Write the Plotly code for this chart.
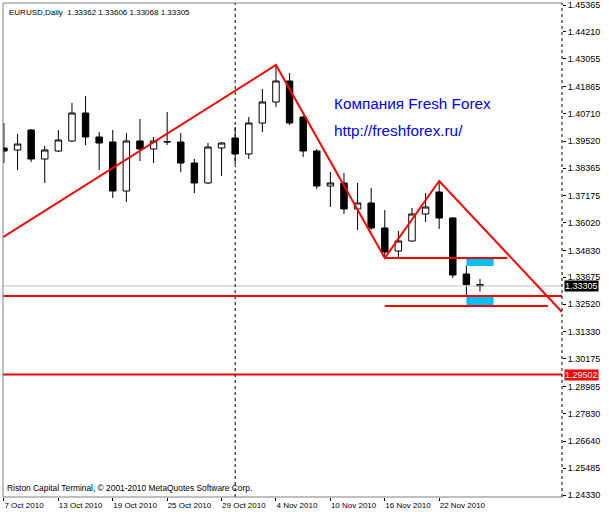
import plotly.graph_objects as go

# ---- data ----
bar_index = list(range(36))
opens  = [1.39226, 1.39140, 1.39999, 1.38754, 1.39097, 1.39527, 1.40729, 1.39698, 1.39484, 1.37380,
          1.39527, 1.39183, 1.39484, 1.39484, 1.38582, 1.37724, 1.39226, 1.39655, 1.38969, 1.40299,
          1.41201, 1.42102, 1.40557, 1.39097, 1.37595, 1.37724, 1.36608, 1.36865, 1.35792, 1.34805,
          1.35234, 1.36393, 1.37337, 1.36221, 1.33817, 1.33362]
highs  = [1.40299, 1.39827, 1.40042, 1.39312, 1.39999, 1.41158, 1.41459, 1.39913, 1.39999, 1.39870,
          1.40471, 1.39698, 1.40772, 1.39870, 1.38754, 1.39441, 1.39484, 1.40128, 1.40557, 1.41759,
          1.42800, 1.42446, 1.40600, 1.39183, 1.38196, 1.38153, 1.37724, 1.37509, 1.36565, 1.35663,
          1.36650, 1.37294, 1.37810, 1.36264, 1.34161, 1.33606]
lows   = [1.38582, 1.38282, 1.38625, 1.37724, 1.39054, 1.39480, 1.39355, 1.38282, 1.37080, 1.36908,
          1.38668, 1.38582, 1.39355, 1.38196, 1.37294, 1.37681, 1.38024, 1.38539, 1.38754, 1.39913,
          1.40986, 1.40214, 1.38840, 1.37466, 1.36693, 1.36393, 1.35706, 1.35706, 1.34504, 1.34547,
          1.35200, 1.36049, 1.35749, 1.33645, 1.32830, 1.33068]
closes = [1.39097, 1.39398, 1.38754, 1.39140, 1.39570, 1.40729, 1.39698, 1.39441, 1.37380, 1.39527,
          1.39183, 1.39527, 1.39494, 1.38582, 1.37724, 1.39269, 1.39441, 1.38969, 1.40299, 1.41201,
          1.42102, 1.40299, 1.39097, 1.37595, 1.37724, 1.36608, 1.36865, 1.35792, 1.34762, 1.35234,
          1.36393, 1.36693, 1.36221, 1.33774, 1.33360, 1.33305]

date_tick_bars = [0, 4, 8, 12, 16, 20, 24, 28, 32]
date_tick_labels = ["7 Oct 2010", "13 Oct 2010", "19 Oct 2010", "25 Oct 2010", "29 Oct 2010",
                    "4 Nov 2010", "10 Nov 2010", "16 Nov 2010", "22 Nov 2010"]

price_ticks = [1.45365, 1.44210, 1.43055, 1.41865, 1.40710, 1.39520, 1.38365, 1.37175, 1.36020,
               1.34830, 1.33675, 1.32520, 1.31330, 1.30175, 1.28985, 1.27830, 1.26640, 1.25485, 1.24330]

# zigzag trend line (bar index, price)
zigzag_bars   = [-0.07, 20, 28, 32, 41.03]
zigzag_prices = [1.35400, 1.42789, 1.34504, 1.37810, 1.32186]

# full-width horizontal levels
level_prices = [1.32873, 1.29502]
# short horizontal segments
seg_start = [28, 28]
seg_end   = [37, 40]
seg_price = [1.34504, 1.32443]

bid_price = 1.33305
separator_bar = 17

# blue target zones
zone_x0 = [34, 34]
zone_x1 = [36, 36]
zone_lo = [1.34161, 1.32486]
zone_hi = [1.34461, 1.32830]

header_text = "EURUSD,Daily  1.33362 1.33606 1.33068 1.33305"
footer_text = "Riston Capital Terminal, © 2001-2010 MetaQuotes Software Corp."
company_text = "Компания Fresh Forex"
url_text = "http://freshforex.ru/"

X_RANGE = [-0.07, 41.03]
Y_RANGE = [1.24244, 1.45451]
FONT = "Liberation Sans, Arial, sans-serif"

fig = go.Figure()

# bid line (behind candles)
fig.add_trace(go.Scatter(x=X_RANGE, y=[bid_price, bid_price], mode="lines",
                         line=dict(color="#C0C0C0", width=1), hoverinfo="skip", showlegend=False))

fig.add_trace(go.Candlestick(
    x=bar_index, open=opens, high=highs, low=lows, close=closes,
    increasing=dict(line=dict(color="black", width=1), fillcolor="white"),
    decreasing=dict(line=dict(color="black", width=1), fillcolor="black"),
    whiskerwidth=0, showlegend=False, hoverinfo="skip"))

# zigzag
fig.add_trace(go.Scatter(x=zigzag_bars, y=zigzag_prices, mode="lines",
                         line=dict(color="#FF0000", width=2), hoverinfo="skip", showlegend=False))
# full-width levels
for p in level_prices:
    fig.add_trace(go.Scatter(x=X_RANGE, y=[p, p], mode="lines",
                             line=dict(color="#FF0000", width=2), hoverinfo="skip", showlegend=False))
# short segments
for a, b, p in zip(seg_start, seg_end, seg_price):
    fig.add_trace(go.Scatter(x=[a, b], y=[p, p], mode="lines",
                             line=dict(color="#FF0000", width=2), hoverinfo="skip", showlegend=False))

shapes = []
for x0, x1, lo, hi in zip(zone_x0, zone_x1, zone_lo, zone_hi):
    shapes.append(dict(type="rect", xref="x", yref="y", x0=x0, x1=x1, y0=lo, y1=hi,
                       fillcolor="#00BFFF", line=dict(width=0), layer="below"))
# period separator
shapes.append(dict(type="line", xref="x", yref="paper", x0=separator_bar, x1=separator_bar, y0=0, y1=1,
                   line=dict(color="black", width=1, dash="dot")))
# frame
shapes.append(dict(type="line", xref="paper", yref="paper", x0=0, x1=0, y0=0, y1=1,
                   line=dict(color="#808080", width=1)))
shapes.append(dict(type="line", xref="paper", yref="paper", x0=0, x1=1, y0=1, y1=1,
                   line=dict(color="#808080", width=1)))
shapes.append(dict(type="line", xref="paper", yref="paper", x0=0, x1=1, y0=0, y1=0,
                   line=dict(color="#808080", width=1)))
shapes.append(dict(type="line", xref="paper", yref="paper", x0=1, x1=1, y0=0, y1=1,
                   line=dict(color="black", width=1, dash="dot")))

annotations = [
    dict(text=header_text, xref="paper", yref="paper", x=0.007, y=0.981, xanchor="left", yanchor="middle",
         showarrow=False, font=dict(family=FONT, size=8, color="black")),
    dict(text=footer_text, xref="paper", yref="paper", x=0.004, y=0.018, xanchor="left", yanchor="middle",
         showarrow=False, font=dict(family=FONT, size=8.4, color="black")),
    dict(text=company_text, xref="paper", yref="paper", x=0.588, y=0.797, xanchor="left", yanchor="middle",
         showarrow=False, font=dict(family=FONT, size=15.3, color="#0000FF")),
    dict(text=url_text, xref="paper", yref="paper", x=0.588, y=0.741, xanchor="left", yanchor="middle",
         showarrow=False, font=dict(family=FONT, size=15.3, color="#0000FF")),
    dict(text=f"{bid_price:.5f}", xref="paper", yref="y", x=1, y=bid_price, xanchor="left", yanchor="middle",
         xshift=2, showarrow=False, bgcolor="black", borderpad=0,
         font=dict(family=FONT, size=9, color="white")),
    dict(text=f"{level_prices[1]:.5f}", xref="paper", yref="y", x=1, y=level_prices[1], xanchor="left",
         yanchor="middle", xshift=2, showarrow=False, bgcolor="#FF0000", borderpad=0,
         font=dict(family=FONT, size=9, color="white")),
]

fig.update_layout(
    width=609, height=515,
    margin=dict(l=3, r=47, t=3, b=18),
    paper_bgcolor="white", plot_bgcolor="white",
    showlegend=False, boxgap=0.32,
    shapes=shapes, annotations=annotations,
    xaxis=dict(range=X_RANGE, showgrid=False, zeroline=False, showline=False,
               tickmode="array", tickvals=date_tick_bars, ticktext=date_tick_labels,
               ticks="outside", ticklen=3, tickcolor="black", tickangle=0,
               ticklabelposition="outside right", ticklabelstandoff=0,
               tickfont=dict(family=FONT, size=8, color="black"), automargin=False,
               rangeslider=dict(visible=False), fixedrange=True),
    yaxis=dict(range=Y_RANGE, side="right", showgrid=False, zeroline=False, showline=False,
               tickmode="array", tickvals=price_ticks, ticktext=[f"{v:.5f}" for v in price_ticks],
               ticks="outside", ticklen=3, tickcolor="black", ticklabelstandoff=0,
               tickfont=dict(family=FONT, size=9, color="black"), automargin=False, fixedrange=True),
)

fig.write_html("out.html", config={"displayModeBar": False},
               post_script="document.body.style.margin='0';document.body.style.overflow='hidden';")
